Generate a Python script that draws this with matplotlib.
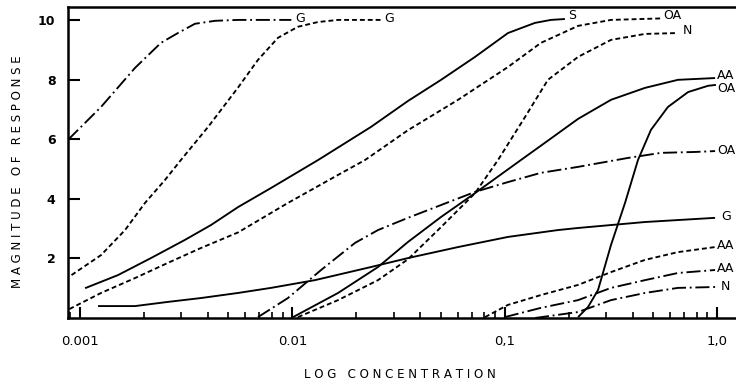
import numpy as np
import matplotlib
matplotlib.use("Agg")
import matplotlib.pyplot as plt
from matplotlib.ticker import FixedLocator, FixedFormatter, LogLocator, NullFormatter

# values, x given as log10(concentration)
g_dd_logc = [-3.056, -2.901, -2.741, -2.619, -2.539, -2.459, -2.364, -2.256, -2.10, -2.005]
g_dd_resp = [5.98, 7.08, 8.39, 9.23, 9.56, 9.87, 9.97, 10.0, 10.0, 10.0]

g_dot_logc = [-3.040, -2.901, -2.788, -2.694, -2.600, -2.525, -2.397, -2.256, -2.162, -2.068, -1.974, -1.879, -1.785, -1.583]
g_dot_resp = [1.44, 2.11, 2.95, 3.86, 4.63, 5.30, 6.41, 7.73, 8.66, 9.40, 9.77, 9.93, 10.0, 10.0]

s_logc = [-2.976, -2.821, -2.666, -2.506, -2.383, -2.256, -2.101, -1.879, -1.630, -1.456, -1.300, -1.140, -0.985, -0.858, -0.783, -0.717]
s_resp = [1.0, 1.44, 2.01, 2.62, 3.12, 3.72, 4.36, 5.30, 6.41, 7.28, 7.99, 8.76, 9.56, 9.90, 10.0, 10.03]

oa_dot_logc = [-3.050, -2.901, -2.741, -2.586, -2.430, -2.256, -2.021, -1.785, -1.658, -1.456, -1.220, -0.985, -0.830, -0.655, -0.500, -0.265]
oa_dot_resp = [0.30, 0.84, 1.34, 1.85, 2.35, 2.87, 3.86, 4.80, 5.30, 6.30, 7.32, 8.42, 9.23, 9.80, 10.0, 10.05]

n_dot_logc = [-1.974, -1.785, -1.597, -1.456, -1.300, -1.140, -1.032, -0.905, -0.797, -0.655, -0.500, -0.340, -0.185]
n_dot_resp = [0.03, 0.60, 1.27, 1.97, 3.05, 4.19, 5.30, 6.74, 7.99, 8.76, 9.33, 9.53, 9.56]

aa_sol_logc = [-1.997, -1.785, -1.597, -1.456, -1.300, -1.140, -0.924, -0.797, -0.655, -0.500, -0.340, -0.185, -0.010]
aa_sol_resp = [0.03, 0.84, 1.71, 2.55, 3.39, 4.19, 5.30, 5.95, 6.68, 7.32, 7.72, 7.99, 8.05]

oa_sol_logc = [-0.655, -0.608, -0.561, -0.500, -0.434, -0.373, -0.312, -0.232, -0.137, -0.043, -0.006]
oa_sol_resp = [0.03, 0.37, 0.94, 2.45, 3.86, 5.30, 6.31, 7.08, 7.58, 7.79, 7.82]

oa_dd_logc = [-2.162, -2.021, -1.865, -1.705, -1.597, -1.456, -1.300, -1.140, -0.985, -0.830, -0.655, -0.420, -0.265, -0.105, -0.010]
oa_dd_resp = [0.03, 0.67, 1.61, 2.52, 2.95, 3.36, 3.79, 4.23, 4.56, 4.87, 5.07, 5.37, 5.54, 5.57, 5.60]

g_sol_logc = [-2.915, -2.741, -2.586, -2.430, -2.256, -2.101, -1.894, -1.630, -1.456, -1.220, -0.985, -0.750, -0.655, -0.340, -0.010]
g_sol_resp = [0.40, 0.40, 0.54, 0.67, 0.84, 1.01, 1.27, 1.71, 2.01, 2.38, 2.72, 2.95, 3.02, 3.22, 3.36]

aa_dot_logc = [-1.093, -0.985, -0.830, -0.655, -0.500, -0.340, -0.185, -0.010]
aa_dot_resp = [0.03, 0.44, 0.77, 1.11, 1.54, 1.95, 2.21, 2.38]

aa_dd_logc = [-1.000, -0.830, -0.655, -0.500, -0.340, -0.185, -0.010]
aa_dd_resp = [0.03, 0.34, 0.60, 1.01, 1.27, 1.51, 1.61]

n_dd_logc = [-0.858, -0.655, -0.500, -0.340, -0.185, -0.010]
n_dd_resp = [0.0, 0.20, 0.60, 0.84, 1.01, 1.04]

xticks = [0.001, 0.01, 0.1, 1.0]
xticklabels = ["0.001", "0.01", "0,1", "1,0"]
yticks = [2, 4, 6, 8, 10]
yticklabels = ["2", "4", "6", "8", "10"]

SOLID = "-"
DOTS = (0, (2.6, 1.6))
DASHDOT = (0, (7.5, 2.0, 1.0, 2.0))

# (logc, resp, style, label, label dx px, label dy px)
curves = [
    (g_dd_logc, g_dd_resp, DASHDOT, "G", 4, 1),
    (g_dot_logc, g_dot_resp, DOTS, "G", 3, 1),
    (s_logc, s_resp, SOLID, "S", 3, 4),
    (oa_dot_logc, oa_dot_resp, DOTS, "OA", 2, 3),
    (n_dot_logc, n_dot_resp, DOTS, "N", 5, 3),
    (aa_sol_logc, aa_sol_resp, SOLID, "AA", 2, 3),
    (oa_sol_logc, oa_sol_resp, SOLID, "OA", 1, -4),
    (oa_dd_logc, oa_dd_resp, DASHDOT, "OA", 2, 1),
    (g_sol_logc, g_sol_resp, SOLID, "G", 6, 1),
    (aa_dot_logc, aa_dot_resp, DOTS, "AA", 2, 2),
    (aa_dd_logc, aa_dd_resp, DASHDOT, "AA", 2, 2),
    (n_dd_logc, n_dd_resp, DASHDOT, "N", 6, 0),
]

fig = plt.figure(figsize=(7.36, 3.85), dpi=100)
W, H = 736, 385
x0, y0, y1 = 68, 318, 6.5
ax = fig.add_axes([x0 / W, 1 - y0 / H, 1 - x0 / W, (y0 - y1) / H])

for logc, resp, ls, lab, dx, dy in curves:
    conc = np.power(10.0, logc)
    ax.plot(conc, resp, color="black", lw=1.35, linestyle=ls,
            solid_capstyle="butt", solid_joinstyle="round")
    ax.annotate(lab, (conc[-1], resp[-1]), xytext=(dx * 0.72, dy * 0.72),
                textcoords="offset points", ha="left", va="center",
                fontsize=9, annotation_clip=False)

ax.set_xscale("log")
ax.set_xlim(10 ** -3.0565, 10 ** 0.0885)
ax.set_ylim(0, 10.45)

ax.xaxis.set_major_locator(FixedLocator(xticks))
ax.xaxis.set_major_formatter(FixedFormatter(xticklabels))
ax.xaxis.set_minor_locator(LogLocator(base=10, subs=np.arange(2, 10)))
ax.xaxis.set_minor_formatter(NullFormatter())
ax.yaxis.set_major_locator(FixedLocator(yticks))
ax.yaxis.set_major_formatter(FixedFormatter(yticklabels))

ax.tick_params(axis="x", which="major", direction="in", length=8, width=1.5, pad=12, labelsize=9.5)
ax.tick_params(axis="x", which="minor", direction="in", length=4.5, width=1.2)
ax.tick_params(axis="y", which="major", direction="in", length=8.5, width=1.5, pad=9, labelsize=9)
for t in ax.get_yticklabels():
    t.set_fontweight("bold")

ax.spines["right"].set_visible(False)
for s in ("left", "bottom", "top"):
    ax.spines[s].set_linewidth(1.8)

fig.text(400 / W, 1 - 374 / H, "L O G   C O N C E N T R A T I O N", ha="center", va="center", fontsize=8.6)
fig.text(18 / W, 1 - 172 / H, "M A G N I T U D E   O F   R E S P O N S E", ha="center", va="center",
         rotation=90, fontsize=8.5)

fig.savefig("out.png", dpi=100)
